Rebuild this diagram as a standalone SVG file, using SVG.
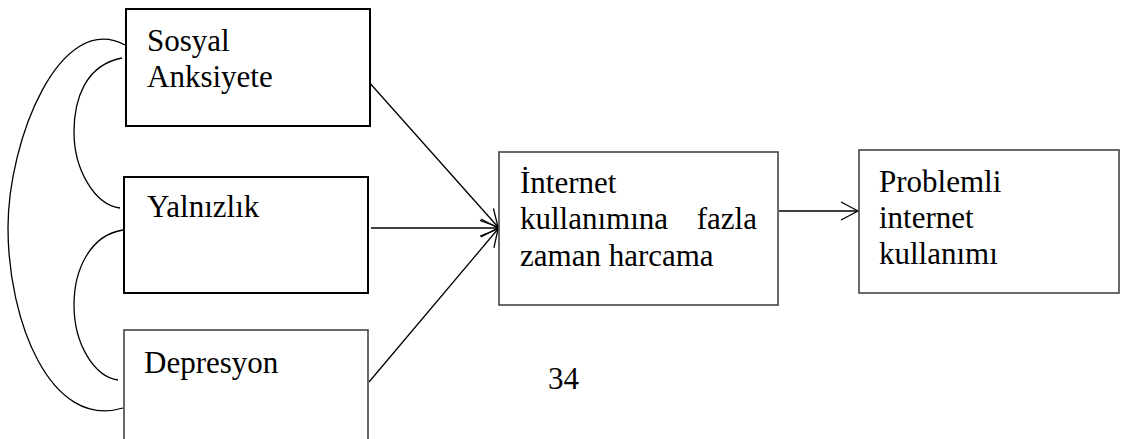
<svg xmlns="http://www.w3.org/2000/svg" width="1121" height="439" viewBox="0 0 1121 439">
<style>
.box{fill:#fff;stroke:#000;stroke-width:2}
.box2{fill:#fff;stroke:#444;stroke-width:1.6}
.t{font-family:"Liberation Serif","Times New Roman",serif;font-size:31px;fill:#000}
.c{fill:none;stroke:#000;stroke-width:1.3}
</style>
<defs>
<marker id="arr" markerUnits="userSpaceOnUse" markerWidth="24" markerHeight="24" viewBox="-20 -12 24 24" refX="0" refY="0" orient="auto">
<path d="M-17,-9 L0,0 L-17,9" fill="none" stroke="#000" stroke-width="1.3"/>
</marker>
</defs>
<rect width="1121" height="439" fill="#fff"/>
<g id="connectors">
<path class="c" d="M125,45 C60,10 8,140 8,228 C8,320 50,430 123,408"/>
<path class="c" d="M122,58 C85,65 74,100 74,132 C74,170 95,205 120,208"/>
<path class="c" d="M123,230 C90,235 74,270 74,305 C74,345 95,377 118,380"/>
<line class="c" x1="368" y1="81" x2="498" y2="227" marker-end="url(#arr)"/>
<line class="c" x1="371" y1="228" x2="498" y2="228" marker-end="url(#arr)"/>
<line class="c" x1="369" y1="382" x2="498" y2="229" marker-end="url(#arr)"/>
<line class="c" x1="779" y1="211" x2="858" y2="211" marker-end="url(#arr)"/>
</g>
<g id="n1">
<rect class="box" x="126" y="9" width="244" height="117"/>
<text class="t" x="147" y="51">Sosyal</text>
<text class="t" x="147" y="87">Anksiyete</text>
</g>
<g id="n2">
<rect class="box" x="124" y="177" width="244" height="116"/>
<text class="t" x="147" y="217">Yalnızlık</text>
</g>
<g id="n3">
<rect class="box2" x="124" y="330" width="244" height="130"/>
<text class="t" x="144" y="373">Depresyon</text>
</g>
<g id="n4">
<rect class="box2" x="499" y="152" width="279" height="153"/>
<text class="t" x="520" y="193">İnternet</text>
<text class="t" x="520" y="229">kullanımına</text>
<text class="t" x="757" y="229" text-anchor="end">fazla</text>
<text class="t" x="520" y="266">zaman harcama</text>
</g>
<g id="n5">
<rect class="box2" x="859" y="150" width="260" height="143"/>
<text class="t" x="879" y="192">Problemli</text>
<text class="t" x="879" y="228">internet</text>
<text class="t" x="879" y="264">kullanımı</text>
</g>
<text class="t" x="548" y="389">34</text>
</svg>
